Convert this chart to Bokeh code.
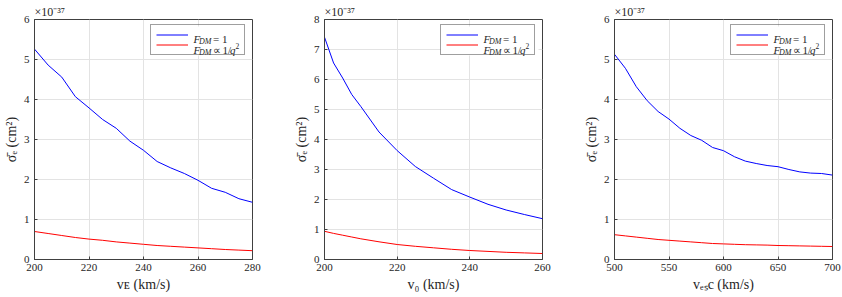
from bokeh.plotting import figure
from bokeh.models import Label, Legend, LegendItem, Range1d, FixedTicker, BoxAnnotation
from bokeh.layouts import row
from bokeh.embed import file_html
from bokeh.resources import INLINE

# ---------------- data ----------------
vE = [200, 205, 210, 215, 220, 225, 230, 235, 240, 245, 250, 255, 260, 265, 270, 275, 280]
vE_F1 = [5.26, 4.86, 4.56, 4.07, 3.79, 3.50, 3.28, 2.96, 2.73, 2.45, 2.29, 2.15, 1.98, 1.78, 1.68, 1.52, 1.43]
vE_Fq2 = [0.70, 0.65, 0.60, 0.55, 0.51, 0.48, 0.44, 0.41, 0.38, 0.35, 0.33, 0.31, 0.29, 0.27, 0.25, 0.235, 0.22]

v0 = [200, 202.5, 205, 207.5, 210, 215, 220, 225, 230, 235, 240, 245, 250, 255, 260]
v0_F1 = [7.41, 6.55, 6.05, 5.50, 5.10, 4.25, 3.63, 3.10, 2.71, 2.33, 2.08, 1.84, 1.65, 1.50, 1.36]
v0_Fq2 = [0.94, 0.87, 0.81, 0.75, 0.69, 0.59, 0.50, 0.44, 0.39, 0.34, 0.30, 0.27, 0.24, 0.22, 0.20]

vesc = [500, 510, 520, 530, 540, 550, 560, 570, 580, 590, 600, 610, 620, 630, 640, 650, 660, 670, 680, 690, 700]
vesc_F1 = [5.13, 4.78, 4.32, 3.97, 3.70, 3.51, 3.28, 3.10, 2.98, 2.80, 2.72, 2.57, 2.46, 2.40, 2.35, 2.32, 2.25, 2.19, 2.16, 2.15, 2.11]
vesc_Fq2 = [0.62, 0.59, 0.56, 0.53, 0.50, 0.48, 0.46, 0.44, 0.42, 0.40, 0.39, 0.38, 0.37, 0.365, 0.36, 0.35, 0.345, 0.34, 0.335, 0.33, 0.325]

xticks_vE = [200, 220, 240, 260, 280]
xticks_v0 = [200, 220, 240, 260]
xticks_vesc = [500, 550, 600, 650, 700]
yticks_6 = [0, 1, 2, 3, 4, 5, 6]
yticks_8 = [0, 1, 2, 3, 4, 5, 6, 7, 8]

xlabel_vE = "v\u1d07 (km/s)"
xlabel_v0 = "v\u2080 (km/s)"
xlabel_vesc = "v\u2091\u209bc (km/s)"
ylabel = "\u03c3\u0304\u2091 (cm\u00b2)"
multiplier = "\u00d710\u207b\u00b3\u2077"

FONT = "Liberation Serif"
TXT = "#262626"


def rich(p, x, y, parts):
    # parts: (text, size px, style, x offset from start, y offset)
    for text, size, style, dx, dy in parts:
        p.add_layout(Label(x=x + dx, y=y + dy, x_units="screen", y_units="screen", text=text,
                           text_font=FONT, text_font_size=f"{size}px", text_font_style=style,
                           text_color=TXT, text_align="left", text_baseline="alphabetic"))


def make(xs, y1, y2, xr, xticks, ymax, yticks, width, border_right, xlabel):
    p = figure(width=width, height=297, x_range=Range1d(*xr), y_range=Range1d(0, ymax),
               output_backend="svg", toolbar_location=None,
               min_border_left=32, min_border_right=border_right,
               min_border_top=19, min_border_bottom=38)
    p.background_fill_color = "white"
    p.border_fill_color = "white"
    p.outline_line_color = "#404040"
    p.outline_line_width = 1
    for ax in (p.xaxis[0], p.yaxis[0]):
        ax.major_tick_in = 3
        ax.major_tick_out = 0
        ax.minor_tick_in = 0
        ax.minor_tick_out = 0
        ax.axis_line_color = "#404040"
        ax.major_tick_line_color = "#404040"
        ax.major_label_text_font = FONT
        ax.major_label_text_font_size = "11px"
        ax.major_label_text_color = TXT
        ax.axis_label_text_font = FONT
        ax.axis_label_text_font_size = "14px"
        ax.axis_label_text_font_style = "normal"
        ax.axis_label_text_color = TXT
    p.xaxis.ticker = FixedTicker(ticks=xticks)
    p.yaxis.ticker = FixedTicker(ticks=yticks)
    p.xaxis.major_label_standoff = 4
    p.yaxis.major_label_standoff = 5
    p.xaxis.axis_label = xlabel
    p.yaxis.axis_label = ylabel
    p.xaxis.axis_label_standoff = 3
    p.yaxis.axis_label_standoff = 2
    p.xgrid.ticker = FixedTicker(ticks=xticks)
    p.ygrid.ticker = FixedTicker(ticks=yticks)
    p.grid.grid_line_color = "#e3e3e3"
    p.grid.grid_line_width = 1

    p.title.text = multiplier
    p.title.align = "left"
    p.title.text_font = FONT
    p.title.text_font_size = "12px"
    p.title.text_font_style = "normal"
    p.title.text_color = TXT
    p.title.standoff = 1
    p.title.offset = 0

    r1 = p.line(xs, y1, line_color="#0000ff", line_width=1)
    r2 = p.line(xs, y2, line_color="#ff0000", line_width=1)

    # legend: white box, texts, then transparent legend frame with samples
    L, B, W, H = 116, 204, 98, 29
    p.add_layout(BoxAnnotation(left=L, right=L + W, bottom=B, top=B + H,
                               left_units="screen", right_units="screen",
                               bottom_units="screen", top_units="screen",
                               fill_color="white", fill_alpha=1, line_alpha=0))
    tx = L + 43
    rich(p, tx, B + 16.5, [("F", 11, "italic", 0, 0), ("DM", 8, "italic", 5.5, -2.5),
                           ("=", 11, "normal", 19.5, 0), ("1", 11, "normal", 28.5, 0)])
    rich(p, tx, B + 5.5, [("F", 11, "italic", 0, 0), ("DM", 8, "italic", 5.5, -2.5),
                          ("\u221d", 11, "normal", 19.0, 0), ("1/", 11, "normal", 29.0, 0),
                          ("q", 11, "italic", 36.5, 0), ("2", 7.5, "normal", 42.0, 4.5)])
    legend = Legend(items=[LegendItem(label="", renderers=[r1]), LegendItem(label="", renderers=[r2])],
                    location=(L, B), padding=5, spacing=1, glyph_width=32, glyph_height=9,
                    label_width=51, label_height=9, label_standoff=0, margin=0,
                    border_line_color="#404040", border_line_width=1,
                    background_fill_alpha=0)
    p.add_layout(legend)
    return p


p1 = make(vE, vE_F1, vE_Fq2, (200, 280), xticks_vE, 6, yticks_6, 290, 38, xlabel_vE)
p2 = make(v0, v0_F1, v0_Fq2, (200, 260), xticks_v0, 8, yticks_8, 290, 38, xlabel_v0)
p3 = make(vesc, vesc_F1, vesc_Fq2, (500, 700), xticks_vesc, 6, yticks_6, 262, 10, xlabel_vesc)

layout = row(p1, p2, p3, spacing=0)
open("out.html", "w").write(file_html(layout, INLINE))
